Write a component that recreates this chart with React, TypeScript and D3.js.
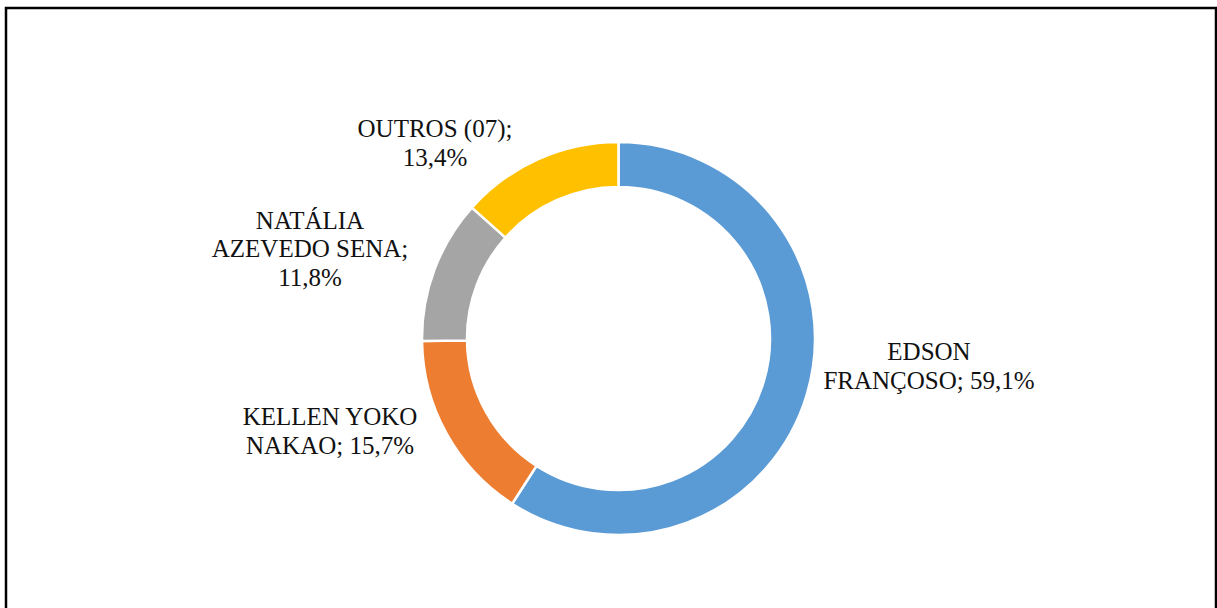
import React from "react";
import * as d3 from "d3";

const names = ["EDSON FRANÇOSO", "KELLEN YOKO NAKAO", "NATÁLIA AZEVEDO SENA", "OUTROS (07)"];
const values = [59.1, 15.7, 11.8, 13.4];
const colors = ["#5B9BD5", "#ED7D31", "#A5A5A5", "#FFC000"];
const labelLines = [
  ["EDSON", "FRANÇOSO; {p}"],
  ["KELLEN YOKO", "NAKAO; {p}"],
  ["NATÁLIA", "AZEVEDO SENA;", "{p}"],
  ["OUTROS (07);", "{p}"],
];
// label block centre offsets relative to doughnut centre (layout, not data)
const labelOffsets: [number, number][] = [
  [310.5, 27.5],
  [-288.5, 92.5],
  [-308.5, -90],
  [-183.5, -195.5],
];

const W = 1217;
const H = 608;
const cx = 618.5;
const cy = 338.5;
const outerR = 196.5;
const innerR = 151.5;
const fontSize = 25;
const lineH = 28.5;

const fmt = (v: number) => v.toFixed(1).replace(".", ",") + "%";

export default function App() {
  const pie = d3.pie<number>().sort(null).value((d) => d)(values);
  const arc = d3.arc<d3.PieArcDatum<number>>().innerRadius(innerR).outerRadius(outerR);
  return (
    <div style={{ position: "absolute", left: 0, top: 0 }}>
      <svg width={W} height={H} style={{ display: "block", background: "#fff" }}>
        <rect x={6} y={8} width={1210} height={700} fill="#fff" stroke="#000" strokeWidth={2.5} />
        <g transform={`translate(${cx},${cy})`}>
          {pie.map((p, i) => (
            <path key={names[i]} d={arc(p) || ""} fill={colors[i]} stroke="#fff" strokeWidth={2.5} />
          ))}
        </g>
        {labelLines.map((lines, i) => {
          const [dx, dy] = labelOffsets[i];
          const n = lines.length;
          return (
            <text
              key={i}
              textAnchor="middle"
              style={{ fontFamily: '"Liberation Serif", Tinos, "Times New Roman", Times, "DejaVu Serif", serif', fontSize: fontSize }}
              fill="#111"
            >
              {lines.map((l, j) => (
                <tspan key={j} x={cx + dx} y={cy + dy + (j - (n - 1) / 2) * lineH + 8.5}>
                  {l.replace("{p}", fmt(values[i]))}
                </tspan>
              ))}
            </text>
          );
        })}
      </svg>
    </div>
  );
}
